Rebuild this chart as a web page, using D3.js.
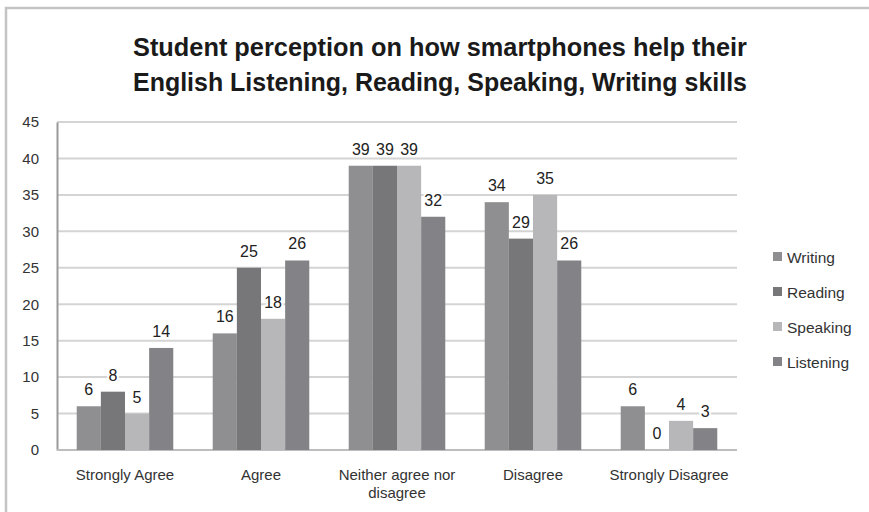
<!DOCTYPE html>
<html><head><meta charset="utf-8">
<script src="https://cdn.jsdelivr.net/npm/d3@7"></script>
<style>body{margin:0;background:#fff}svg{display:block}text{font-family:"Liberation Sans",Arial,sans-serif}</style>
</head><body><svg id="c" width="869" height="512"></svg>
<script>
const categories = ["Strongly Agree", "Agree", "Neither agree nor disagree", "Disagree", "Strongly Disagree"];
const categoryLines = [["Strongly Agree"], ["Agree"], ["Neither agree nor", "disagree"], ["Disagree"], ["Strongly Disagree"]];
const seriesNames = ["Writing", "Reading", "Speaking", "Listening"];
const writing = [6, 16, 39, 34, 6];
const reading = [8, 25, 39, 29, 0];
const speaking = [5, 18, 39, 35, 4];
const listening = [14, 26, 32, 26, 3];
const yTicks = [0, 5, 10, 15, 20, 25, 30, 35, 40, 45];
const colors = ["#8f8f91", "#77777a", "#b7b7b9", "#838387"];
const titleLines = ["Student perception on how smartphones help their", "English Listening, Reading, Speaking, Writing skills"];

const seriesValues = [writing, reading, speaking, listening];
const svg = d3.select("#c");
const W = 869, H = 512;
const m = {l: 57, r: 132, t: 122, b: 62};

// outer frame
svg.append("rect").attr("x", 6).attr("y", 8).attr("width", 900).attr("height", 600)
  .attr("fill", "none").attr("stroke", "#c4c4c4").attr("stroke-width", 2.5);

// title
svg.append("g").selectAll("text").data(titleLines).join("text")
  .attr("x", 440).attr("y", (d, i) => 56 + i * 35)
  .attr("text-anchor", "middle").attr("font-size", 26).attr("font-weight", "bold")
  .attr("textLength", 614).attr("lengthAdjust", "spacingAndGlyphs")
  .attr("fill", "#1a1a1a").text(d => d);

const x0 = d3.scaleBand().domain(categories).range([m.l, W - m.r]).paddingInner(0.29).paddingOuter(0.145);
const x1 = d3.scaleBand().domain(seriesNames).range([0, x0.bandwidth()]);
const y = d3.scaleLinear().domain([0, 45]).range([H - m.b, m.t]);

// gridlines
svg.append("g").selectAll("line").data(yTicks.filter(t => t > 0)).join("line")
  .attr("x1", m.l).attr("x2", W - m.r).attr("y1", d => y(d)).attr("y2", d => y(d))
  .attr("stroke", "#d4d4d4").attr("stroke-width", 2);

// y axis
const yAxis = d3.axisLeft(y).tickValues(yTicks).tickSize(0).tickPadding(18);
const gy = svg.append("g").attr("transform", `translate(${m.l},0)`).call(yAxis);
gy.select(".domain").attr("stroke", "#9a9a9a").attr("stroke-width", 2);
gy.selectAll("text").attr("font-size", 15).attr("fill", "#333").attr("font-family", "Liberation Sans, Arial, sans-serif");

// baseline
svg.append("line").attr("x1", m.l).attr("x2", W - m.r).attr("y1", y(0)).attr("y2", y(0))
  .attr("stroke", "#bdbdbd").attr("stroke-width", 2);

// bars
const flat = [];
categories.forEach((c, ci) => seriesNames.forEach((s, si) => flat.push({c, s, si, v: seriesValues[si][ci]})));
svg.append("g").selectAll("rect").data(flat).join("rect")
  .attr("x", d => x0(d.c) + x1(d.s)).attr("width", x1.bandwidth())
  .attr("y", d => y(d.v)).attr("height", d => y(0) - y(d.v))
  .attr("fill", d => colors[d.si]);

// labels
svg.append("g").selectAll("text").data(flat).join("text")
  .attr("x", d => x0(d.c) + x1(d.s) + x1.bandwidth() / 2)
  .attr("y", d => y(d.v) - 11)
  .attr("text-anchor", "middle").attr("font-size", 16).attr("fill", "#222")
  .attr("stroke", "#fff").attr("stroke-width", 4).attr("paint-order", "stroke")
  .text(d => d.v);

// x labels
const xg = svg.append("g");
categories.forEach((c, ci) => {
  const t = xg.append("text").attr("x", x0(c) + x0.bandwidth() / 2).attr("y", 480)
    .attr("text-anchor", "middle").attr("font-size", 15).attr("fill", "#333");
  categoryLines[ci].forEach((ln, li) => t.append("tspan").attr("x", x0(c) + x0.bandwidth() / 2).attr("dy", li ? 18 : 0).text(ln));
});

// legend
const lg = svg.append("g").selectAll("g").data(seriesNames).join("g")
  .attr("transform", (d, i) => `translate(773,${257 + i * 35})`);
lg.append("rect").attr("x", 0).attr("y", -5).attr("width", 9).attr("height", 9).attr("fill", (d, i) => colors[i]);
lg.append("text").attr("x", 14).attr("y", 5.5).attr("font-size", 15.5).attr("fill", "#333").text(d => d);
</script></body></html>
